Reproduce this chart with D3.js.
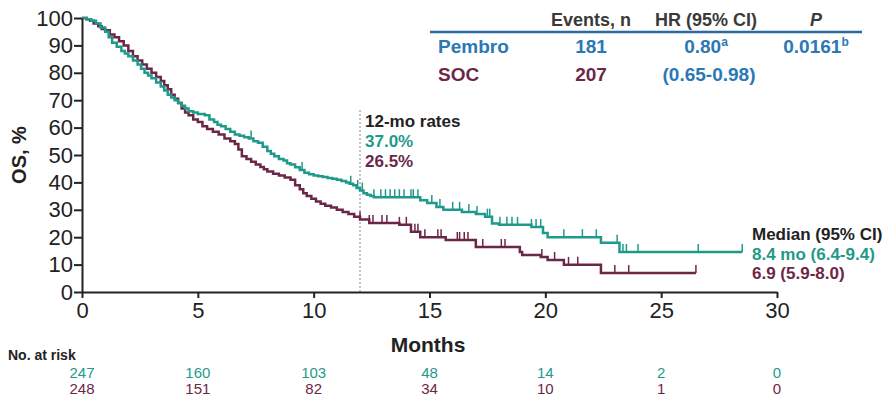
<!DOCTYPE html>
<html>
<head>
<meta charset="utf-8">
<script src="https://cdn.jsdelivr.net/npm/d3@7"></script>
<style>
  body { margin: 0; background: #fff; }
  svg { display: block; font-family: "Liberation Sans", Arial, sans-serif; }
</style>
</head>
<body>
<svg id="chart" width="885" height="404"></svg>
<script>
// KM step points (months, OS %)
const pembroTime = [0, 0.2, 0.4, 0.6, 0.8, 1.0, 1.15, 1.3, 1.5, 1.7, 1.85, 2.0, 2.2, 2.4, 2.55, 2.7, 2.85, 3.0, 3.2, 3.4, 3.55, 3.7, 3.85, 4.0, 4.15, 4.3, 4.45, 4.6, 4.8, 5.0, 5.3, 5.5, 5.7, 5.85, 6.0, 6.2, 6.4, 6.6, 6.8, 7.0, 7.2, 7.4, 7.6, 7.8, 8.0, 8.15, 8.3, 8.5, 8.7, 8.85, 9.0, 9.2, 9.4, 9.6, 9.8, 10.0, 10.2, 10.4, 10.6, 10.8, 11.0, 11.2, 11.4, 11.55, 11.7, 11.85, 12.0, 12.15, 12.3, 12.45, 12.6, 14.6, 14.9, 15.3, 15.6, 16.4, 17.0, 17.4, 17.7, 18.0, 19.4, 19.9, 20.1, 22.4, 23.2, 28.5];
const pembroSurv = [100, 99.5, 99, 98, 96.5, 95, 93, 91, 89.5, 88, 87, 86, 84.5, 83, 81.5, 80, 79, 78, 76.5, 75, 73.5, 72, 71, 70, 69, 68, 67, 66, 65.5, 65, 64.5, 63, 62, 61, 60.5, 59.5, 58.5, 57.5, 57, 56.5, 56, 55, 54.5, 53, 51.5, 50.5, 49.5, 48.5, 48, 47, 46.5, 45.5, 44.5, 43.5, 43, 42.5, 42.2, 42, 41.6, 41.3, 41, 40.5, 40, 39.5, 39, 38, 37, 36, 35.5, 35, 34.6, 33.5, 32.5, 31, 30, 29.2, 28.5, 27.5, 25, 24.5, 23.7, 21.5, 20, 18, 14.6, 14.6];
const socTime = [0, 0.2, 0.35, 0.5, 0.7, 0.85, 1.0, 1.2, 1.4, 1.6, 1.8, 2.0, 2.2, 2.4, 2.6, 2.8, 3.0, 3.2, 3.4, 3.55, 3.7, 3.85, 4.0, 4.15, 4.3, 4.45, 4.6, 4.8, 5.0, 5.2, 5.4, 5.65, 5.9, 6.15, 6.4, 6.6, 6.75, 6.9, 7.1, 7.3, 7.5, 7.7, 7.85, 8.0, 8.25, 8.5, 8.75, 9.0, 9.2, 9.4, 9.55, 9.7, 9.9, 10.1, 10.3, 10.5, 10.75, 11.0, 11.25, 11.5, 11.75, 12.0, 12.4, 13.7, 14.2, 14.6, 15.7, 17.0, 18.9, 19.0, 19.8, 20.1, 20.8, 22.4, 26.5];
const socSurv = [100, 99.5, 99, 98, 97, 96, 95.5, 94, 93, 91.5, 90, 88, 86, 84.5, 83, 81.5, 80, 78.5, 77, 75.5, 74, 72, 70.5, 69, 67, 65.5, 64.5, 63, 62, 60.5, 59.5, 58.5, 57.5, 56, 55, 54, 52, 49.5, 48.5, 47.5, 46.5, 45.6, 44.8, 44, 43.2, 42.5, 41.8, 41, 39, 37.5, 36, 35, 34, 33, 32.2, 31.5, 30.8, 30, 29.2, 28.5, 27.5, 26.5, 25.2, 24.5, 22, 20, 19, 16.4, 14.6, 13.5, 12.8, 11.7, 9.9, 6.9, 6.9];

// censoring marks (months)
const pembroCensor = [7.3, 9.5, 11.6, 11.9, 12.1, 12.6, 12.9, 13.1, 13.3, 13.5, 13.7, 13.9, 14.2, 14.3, 14.5, 15.1, 15.45, 16.0, 16.3, 16.7, 17.05, 17.5, 17.6, 18.04, 18.34, 18.56, 18.8, 19.4, 19.6, 19.8, 20.8, 21.6, 22.2, 23.1, 23.35, 23.5, 24.0, 26.6, 28.5];
const socCensor = [12.0, 12.4, 12.56, 12.95, 13.16, 13.7, 14.0, 14.37, 14.5, 14.8, 15.36, 15.5, 16.2, 16.3, 16.5, 16.66, 17.3, 18.1, 18.26, 19.85, 20.4, 21.0, 21.4, 23.0, 23.6, 26.5];

const xTicks = [0, 5, 10, 15, 20, 25, 30];
const yTicks = [0, 10, 20, 30, 40, 50, 60, 70, 80, 90, 100];
const riskPembro = [247, 160, 103, 48, 14, 2, 0];
const riskSoc = [248, 151, 82, 34, 10, 1, 0];

const tableHead = ["Events, n", "HR (95% CI)", "P"];
const pembroRow = ["Pembro", "181", "0.80", "0.0161"];
const socRow = ["SOC", "207", "(0.65-0.98)"];
const rateLabels = ["12-mo rates", "37.0%", "26.5%"];
const medianLabels = ["Median (95% CI)", "8.4 mo (6.4-9.4)", "6.9 (5.9-8.0)"];

const teal = "#1f9a8a", maroon = "#6c2747", blue = "#2b78b4", ink = "#222";

const svg = d3.select("#chart");
const x = d3.scaleLinear().domain([0, 30]).range([82, 777]);
const y = d3.scaleLinear().domain([0, 100]).range([292, 18]);

// survival value at a time (step function)
function survAt(times, surv, t) {
  let v = surv[0];
  for (let i = 0; i < times.length; i++) if (times[i] <= t) v = surv[i];
  return v;
}

// 12-month reference line
svg.append("line")
  .attr("x1", x(12)).attr("x2", x(12))
  .attr("y1", 110).attr("y2", y(0))
  .attr("stroke", "#888").attr("stroke-width", 1)
  .attr("stroke-dasharray", "2,2");

// curves
const line = d3.line().curve(d3.curveStepAfter)
  .x(d => x(d[0])).y(d => y(d[1]));

function drawArm(times, surv, censor, color) {
  const pts = times.map((t, i) => [t, surv[i]]);
  svg.append("path")
    .datum(pts)
    .attr("d", line)
    .attr("fill", "none")
    .attr("stroke", color)
    .attr("stroke-width", 2.5);
  svg.append("g").selectAll("line")
    .data(censor)
    .join("line")
    .attr("x1", d => x(d)).attr("x2", d => x(d))
    .attr("y1", d => y(survAt(times, surv, d)))
    .attr("y2", d => y(survAt(times, surv, d)) - 8)
    .attr("stroke", color).attr("stroke-width", 1.5);
}
drawArm(socTime, socSurv, socCensor, maroon);
drawArm(pembroTime, pembroSurv, pembroCensor, teal);

// axes
const xAxis = svg.append("g")
  .attr("transform", `translate(0,${y(0)})`)
  .call(d3.axisBottom(x).tickValues(xTicks).tickSize(6).tickPadding(4).tickSizeOuter(0));
xAxis.selectAll("text").attr("font-size", 22).attr("fill", ink);

const yAxis = svg.append("g")
  .attr("transform", `translate(${x(0)},0)`)
  .call(d3.axisLeft(y).tickValues(yTicks).tickSize(8).tickPadding(1).tickSizeOuter(0));
yAxis.selectAll("text").attr("font-size", 22).attr("fill", ink);

[xAxis, yAxis].forEach(a => {
  a.select(".domain").attr("stroke", ink).attr("stroke-width", 2);
  a.selectAll(".tick line").attr("stroke", ink).attr("stroke-width", 2);
  a.attr("font-family", null);
});

// axis titles
svg.append("text")
  .attr("transform", "translate(26,155) rotate(-90)")
  .attr("text-anchor", "middle")
  .attr("font-size", 20).attr("font-weight", "bold").attr("fill", ink)
  .text("OS, %");

svg.append("text")
  .attr("x", 428).attr("y", 352)
  .attr("text-anchor", "middle")
  .attr("font-size", 21).attr("font-weight", "bold").attr("fill", ink)
  .text("Months");

// number at risk
svg.append("text")
  .attr("x", 8).attr("y", 360)
  .attr("font-size", 14).attr("font-weight", "bold").attr("fill", ink)
  .text("No. at risk");

svg.append("g").selectAll("text")
  .data(riskPembro)
  .join("text")
  .attr("x", (d, i) => x(xTicks[i])).attr("y", 378)
  .attr("text-anchor", "middle").attr("font-size", 15).attr("fill", teal)
  .text(d => d);

svg.append("g").selectAll("text")
  .data(riskSoc)
  .join("text")
  .attr("x", (d, i) => x(xTicks[i])).attr("y", 394)
  .attr("text-anchor", "middle").attr("font-size", 15).attr("fill", maroon)
  .text(d => d);

// 12-mo rates
svg.append("g").selectAll("text")
  .data(rateLabels)
  .join("text")
  .attr("x", 365).attr("y", (d, i) => 127 + i * 20)
  .attr("font-size", 17).attr("font-weight", "bold")
  .attr("fill", (d, i) => [ink, teal, maroon][i])
  .text(d => d);

// medians
svg.append("g").selectAll("text")
  .data(medianLabels)
  .join("text")
  .attr("x", 752).attr("y", (d, i) => 240 + i * 19.5)
  .attr("font-size", 17).attr("font-weight", "bold")
  .attr("fill", (d, i) => [ink, teal, maroon][i])
  .text(d => d);

// results table
const colX = [438, 591, 706, 816];
svg.append("line")
  .attr("x1", 430).attr("x2", 862).attr("y1", 32).attr("y2", 32)
  .attr("stroke", "#2a6aa3").attr("stroke-width", 2.5);

tableHead.forEach((h, i) => {
  svg.append("text")
    .attr("x", colX[i + 1]).attr("y", 26)
    .attr("text-anchor", "middle")
    .attr("font-size", 18).attr("font-weight", "bold").attr("fill", "#3a3a3a")
    .attr("font-style", h === "P" ? "italic" : null)
    .text(h);
});

const row1 = svg.append("g").attr("font-size", 19).attr("font-weight", "bold").attr("fill", blue);
row1.append("text").attr("x", colX[0]).attr("y", 53).text(pembroRow[0]);
row1.append("text").attr("x", colX[1]).attr("y", 53).attr("text-anchor", "middle").text(pembroRow[1]);
const hr = row1.append("text").attr("x", colX[2]).attr("y", 53).attr("text-anchor", "middle");
hr.append("tspan").text(pembroRow[2]);
hr.append("tspan").attr("font-size", 12).attr("dy", -7).text("a");
const pv = row1.append("text").attr("x", colX[3]).attr("y", 53).attr("text-anchor", "middle");
pv.append("tspan").text(pembroRow[3]);
pv.append("tspan").attr("font-size", 12).attr("dy", -7).text("b");

const row2 = svg.append("g").attr("font-size", 19).attr("font-weight", "bold");
row2.append("text").attr("x", colX[0]).attr("y", 81).attr("fill", maroon).text(socRow[0]);
row2.append("text").attr("x", colX[1]).attr("y", 81).attr("text-anchor", "middle").attr("fill", maroon).text(socRow[1]);
row2.append("text").attr("x", 709).attr("y", 81).attr("text-anchor", "middle").attr("fill", blue).text(socRow[2]);
</script>
</body>
</html>
